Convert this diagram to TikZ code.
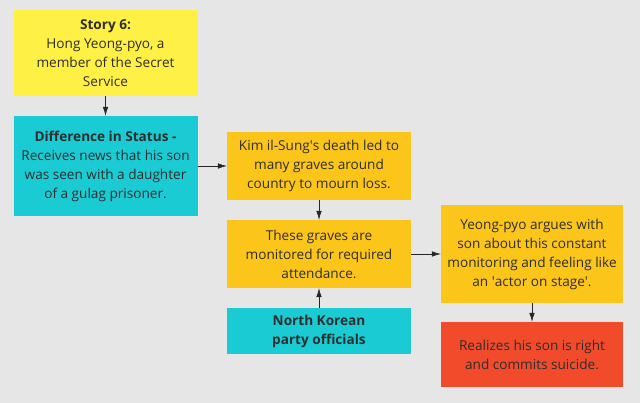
\documentclass[tikz,border=0pt]{standalone}
\usepackage{fontspec}
\setmainfont{Open Sans}
\usetikzlibrary{arrows.meta}
\definecolor{bggray}{HTML}{E6E6E6}
\definecolor{storyyellow}{HTML}{FFF046}
\definecolor{boxcyan}{HTML}{1ACBD3}
\definecolor{boxorange}{HTML}{FBC519}
\definecolor{boxred}{HTML}{F24B2C}
\definecolor{inktext}{HTML}{2E2E2E}
\newcommand{\sq}{\textquotesingle}

\begin{document}
\begin{tikzpicture}[
  x=1pt, y=-1pt,
  font=\fontsize{13.6}{19}\selectfont,
  box/.style={text=inktext, align=center, inner sep=0pt, minimum width=184pt},
  ybox/.style={box, fill=storyyellow},
  cbox/.style={box, fill=boxcyan},
  obox/.style={box, fill=boxorange},
  rbox/.style={box, fill=boxred},
  edge/.style={-{Latex[length=9pt,width=5.5pt]}, semithick, draw=black!85}
]

% background
\fill[bggray] (0,0) rectangle (640,403);
\useasboundingbox (0,0) rectangle (640,403);

%======================
% LEFT COLUMN
%======================

\node[ybox, minimum height=86pt] (story) at (105.5,53)
  {\textbf{Story 6:}\\Hong Yeong-pyo, a\\member of the Secret\\Service};
\node[cbox, minimum height=100pt] (status) at (105.5,166)
  {\textbf{Difference in Status -}\\Receives news that his son\\was seen with a daughter\\of a gulag prisoner.};

%======================
% MIDDLE COLUMN
%======================

\node[obox, minimum height=68pt] (death) at (319,166)
  {Kim il-Sung\sq s death led to\\many graves around\\country to mourn loss.};
\node[obox, minimum height=68pt] (graves) at (319,254)
  {These graves are\\monitored for required\\attendance.};
\node[cbox, minimum height=46pt] (officials) at (319,331)
  {\textbf{North Korean}\\\textbf{party officials}};

%======================
% RIGHT COLUMN
%======================

\node[obox, minimum width=182pt, minimum height=98pt] (argues) at (532,254)
  {Yeong-pyo argues with\\son about this constant\\monitoring and feeling like\\an \sq actor on stage\sq .};
\node[rbox, minimum width=182pt, minimum height=65pt] (suicide) at (532,354.5)
  {Realizes his son is right\\and commits suicide.};

% connectors
\draw[edge] (story) -- (status);
\draw[edge] (status) -- (death);
\draw[edge] (death) -- (graves);
\draw[edge] (officials) -- (graves);
\draw[edge] (graves) -- (argues);
\draw[edge] (argues) -- (suicide);

\end{tikzpicture}
\end{document}
